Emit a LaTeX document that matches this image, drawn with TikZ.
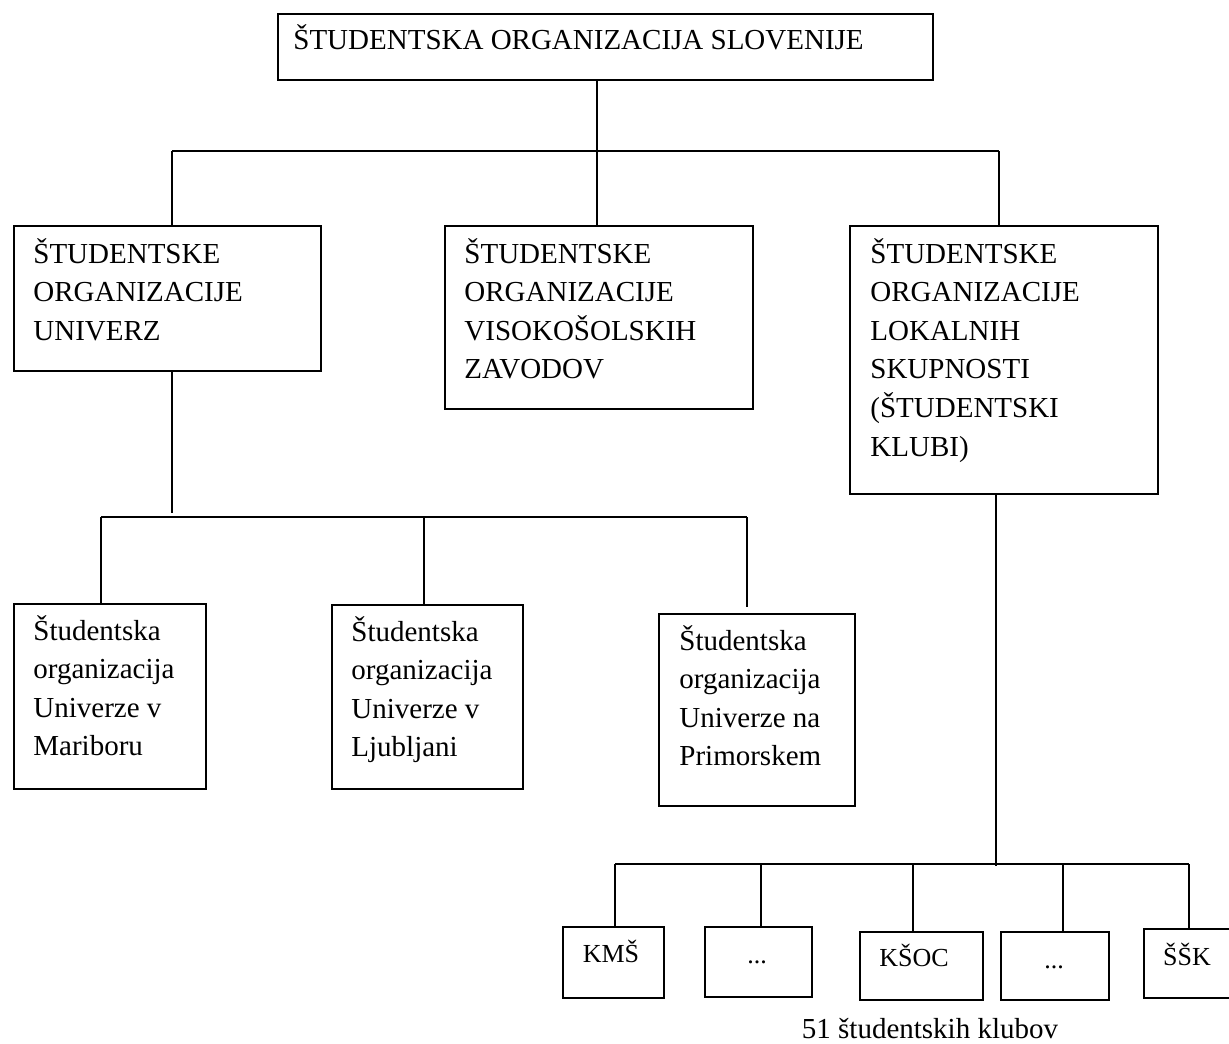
\documentclass[tikz,border=0pt]{standalone}
\usepackage{fontspec}
\setmainfont{Liberation Serif}
\newcommand{\ml}[1]{\parbox[t]{160pt}{#1}}
\begin{document}
\begin{tikzpicture}[x=0.5pt,y=-0.5pt,
  box/.style={draw, line width=1pt, inner sep=0pt, anchor=north west},
  big/.style={font=\fontsize{14.5pt}{19.3pt}\selectfont, inner sep=0pt, anchor=base west},
  small/.style={font=\fontsize{13pt}{15pt}\selectfont, inner sep=0pt, anchor=base},
  conn/.style={line width=0.9pt}]
\useasboundingbox (0,0) rectangle (1229,1043);
\clip (0,0) rectangle (1229,1043);

% boxes
\node[box, minimum width=327.5pt, minimum height=33pt] (top) at (277,13) {};
\node[box, minimum width=153.5pt, minimum height=72.5pt] (U) at (13,225) {};
\node[box, minimum width=154pt, minimum height=91.5pt] (V) at (444,225) {};
\node[box, minimum width=154pt, minimum height=134pt] (L) at (849,225) {};
\node[box, minimum width=96pt, minimum height=92.5pt] (b1) at (13,603) {};
\node[box, minimum width=95.5pt, minimum height=92pt] (b2) at (331,604) {};
\node[box, minimum width=98pt, minimum height=96pt] (b3) at (658,613) {};
\node[box, minimum width=50.5pt, minimum height=35.5pt] (k1) at (562,926) {};
\node[box, minimum width=53.5pt, minimum height=35pt] (k2) at (704,926) {};
\node[box, minimum width=61.5pt, minimum height=34pt] (k3) at (859,931) {};
\node[box, minimum width=54pt, minimum height=34pt] (k4) at (1000,931) {};
\node[box, minimum width=60pt, minimum height=34.5pt] (k5) at (1143,928) {};

% texts
\node[big] (ttop) at (293,50) {ŠTUDENTSKA ORGANIZACIJA SLOVENIJE};
\node[big] (tU) at (33,263) {\ml{ŠTUDENTSKE\\ORGANIZACIJE\\UNIVERZ}};
\node[big] (tV) at (464,263) {\ml{ŠTUDENTSKE\\ORGANIZACIJE\\VISOKOŠOLSKIH\\ZAVODOV}};
\node[big] (tL) at (870,263) {\ml{ŠTUDENTSKE\\ORGANIZACIJE\\LOKALNIH\\SKUPNOSTI\\(ŠTUDENTSKI\\KLUBI)}};
\node[big] (tb1) at (33,640) {\ml{Študentska\\organizacija\\Univerze v\\Mariboru}};
\node[big] (tb2) at (351,641) {\ml{Študentska\\organizacija\\Univerze v\\Ljubljani}};
\node[big] (tb3) at (679,650) {\ml{Študentska\\organizacija\\Univerze na\\Primorskem}};
\node[small] (tk1) at (611,962) {KMŠ};
\node[small] (tk2) at (757,963) {...};
\node[small] (tk3) at (914,966) {KŠOC};
\node[small] (tk4) at (1054,968) {...};
\node[small] (tk5) at (1187,965) {ŠŠK};
\node[font=\fontsize{14.5pt}{17pt}\selectfont, inner sep=0pt, anchor=base] (lab) at (930,1038) {51 študentskih klubov};

% connectors level 1
\coordinate (j1) at (597,151);
\coordinate (hL) at (172,151);
\coordinate (hR) at (999,151);
\draw[conn] (top.south -| j1) -- (j1);
\draw[conn] (hL) -- (hR);
\draw[conn] (hL) -- (hL |- U.north);
\draw[conn] (j1) -- (j1 |- V.north);
\draw[conn] (hR) -- (hR |- L.north);

% connectors level 2 (universities)
\coordinate (a1) at (172,513);
\coordinate (m1) at (101,517);
\coordinate (m2) at (424,517);
\coordinate (m3) at (747,517);
\coordinate (m3e) at (747,607);
\draw[conn] (U.south -| a1) -- (a1);
\draw[conn] (m1) -- (m3);
\draw[conn] (m1) -- (m1 |- b1.north);
\draw[conn] (m2) -- (m2 |- b2.north);
\draw[conn] (m3) -- (m3e);

% connectors level 2 (clubs)
\coordinate (r0) at (996,866);
\coordinate (n1) at (615,864);
\coordinate (n2) at (761,864);
\coordinate (n3) at (913,864);
\coordinate (n4) at (1063,864);
\coordinate (n5) at (1189,864);
\draw[conn] (L.south -| r0) -- (r0);
\draw[conn] (n1) -- (n5);
\draw[conn] (n1) -- (n1 |- k1.north);
\draw[conn] (n2) -- (n2 |- k2.north);
\draw[conn] (n3) -- (n3 |- k3.north);
\draw[conn] (n4) -- (n4 |- k4.north);
\draw[conn] (n5) -- (n5 |- k5.north);
\end{tikzpicture}
\end{document}
